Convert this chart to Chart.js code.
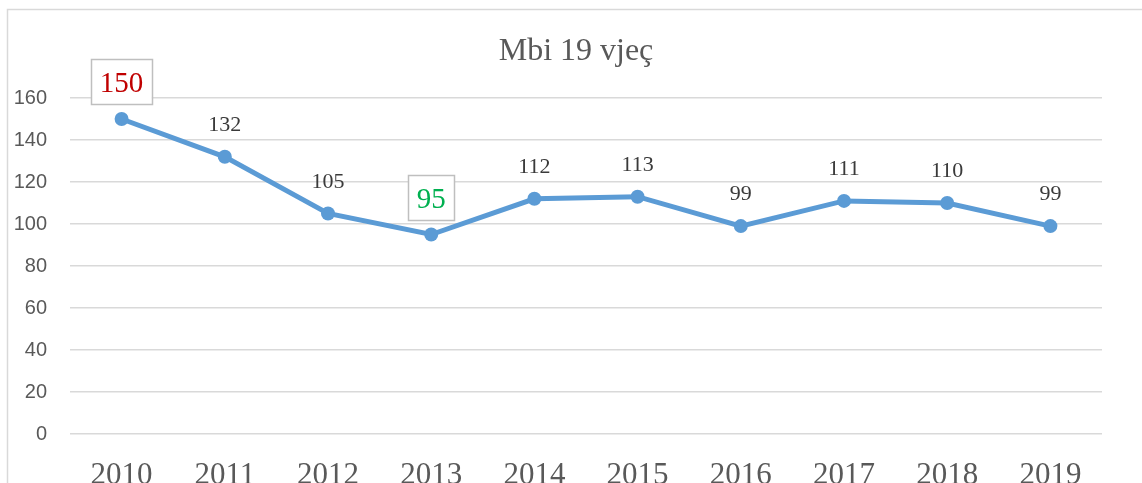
<!DOCTYPE html>
<html>
<head>
<meta charset="utf-8">
<script src="https://cdn.jsdelivr.net/npm/chart.js@4.4.1/dist/chart.umd.min.js"></script>
<style>
  html, body { margin: 0; padding: 0; background: #fff; }
  #wrap { width: 1142px; height: 483px; position: relative; }
</style>
</head>
<body>
<div id="wrap"><canvas id="chart"></canvas></div>
<script>
// data
const years = ['2010', '2011', '2012', '2013', '2014', '2015', '2016', '2017', '2018', '2019'];
const counts = [150, 132, 105, 95, 112, 113, 99, 111, 110, 99];
const yTicks = [0, 20, 40, 60, 80, 100, 120, 140, 160];
const chartTitle = 'Mbi 19 vjeç';

// highest value gets a red boxed label, lowest a green one
const maxIdx = counts.indexOf(Math.max(...counts));
const minIdx = counts.indexOf(Math.min(...counts));

// outer frame + title
const framePlugin = {
  id: 'frame',
  beforeDraw(chart) {
    const ctx = chart.ctx;
    ctx.save();
    ctx.strokeStyle = '#d9d9d9';
    ctx.lineWidth = 1.5;
    ctx.beginPath();
    ctx.moveTo(7.5, chart.height + 5);
    ctx.lineTo(7.5, 9.5);
    ctx.lineTo(chart.width + 5, 9.5);
    ctx.stroke();

    ctx.fillStyle = '#595959';
    ctx.font = '32px "Liberation Serif", serif';
    ctx.textAlign = 'center';
    ctx.textBaseline = 'alphabetic';
    ctx.fillText(chartTitle, 576, 60);
    ctx.restore();
  }
};

// value labels above the points
const labelPlugin = {
  id: 'valueLabels',
  afterDatasetsDraw(chart) {
    const ctx = chart.ctx;
    const meta = chart.getDatasetMeta(0);
    ctx.save();
    ctx.textAlign = 'center';
    ctx.textBaseline = 'alphabetic';
    meta.data.forEach((pt, i) => {
      const txt = String(counts[i]);
      if (i === maxIdx || i === minIdx) {
        ctx.font = '29px "Liberation Serif", serif';
        const w = ctx.measureText(txt).width + 17;
        const base = pt.y - 27;
        ctx.fillStyle = '#fff';
        ctx.fillRect(pt.x - w / 2, base - 33, w, 45);
        ctx.strokeStyle = '#bfbfbf';
        ctx.lineWidth = 1.5;
        ctx.strokeRect(Math.round(pt.x - w / 2) + 0.5, Math.round(base - 33) + 0.5, Math.round(w), 45);
        ctx.fillStyle = i === maxIdx ? '#c00000' : '#00b050';
        ctx.fillText(txt, pt.x, base);
      } else {
        ctx.font = '22px "Liberation Serif", serif';
        ctx.fillStyle = '#3a3a3a';
        ctx.fillText(txt, pt.x, pt.y - 26);
      }
    });
    ctx.restore();
  }
};

new Chart(document.getElementById('chart'), {
  type: 'line',
  data: {
    labels: years,
    datasets: [{
      data: counts,
      borderColor: '#5b9bd5',
      backgroundColor: '#5b9bd5',
      borderWidth: 5,
      pointRadius: 7,
      pointHoverRadius: 7,
      pointBorderWidth: 0,
      tension: 0
    }]
  },
  options: {
    responsive: true,
    maintainAspectRatio: false,
    animation: false,
    layout: { padding: { top: 98, right: 40, left: 0, bottom: 0 } },
    plugins: {
      legend: { display: false },
      title: { display: false },
      tooltip: { enabled: false }
    },
    scales: {
      x: {
        offset: true,
        grid: { display: false, drawTicks: false },
        border: { display: false },
        ticks: {
          color: '#595959',
          font: { family: '"Liberation Serif", serif', size: 31 },
          padding: 23,
          maxRotation: 0,
          autoSkip: false
        },
        afterFit(scale) { scale.height = 49; }
      },
      y: {
        min: 0,
        max: 160,
        afterBuildTicks(scale) { scale.ticks = yTicks.map(v => ({ value: v })); },
        grid: { color: '#d9d9d9', lineWidth: 1.5, drawTicks: false },
        border: { display: false },
        ticks: {
          color: '#595959',
          font: { family: '"Liberation Sans", sans-serif', size: 20 },
          padding: 23
        },
        afterFit(scale) { scale.width = 70; }
      }
    }
  },
  plugins: [framePlugin, labelPlugin]
});
</script>
</body>
</html>
